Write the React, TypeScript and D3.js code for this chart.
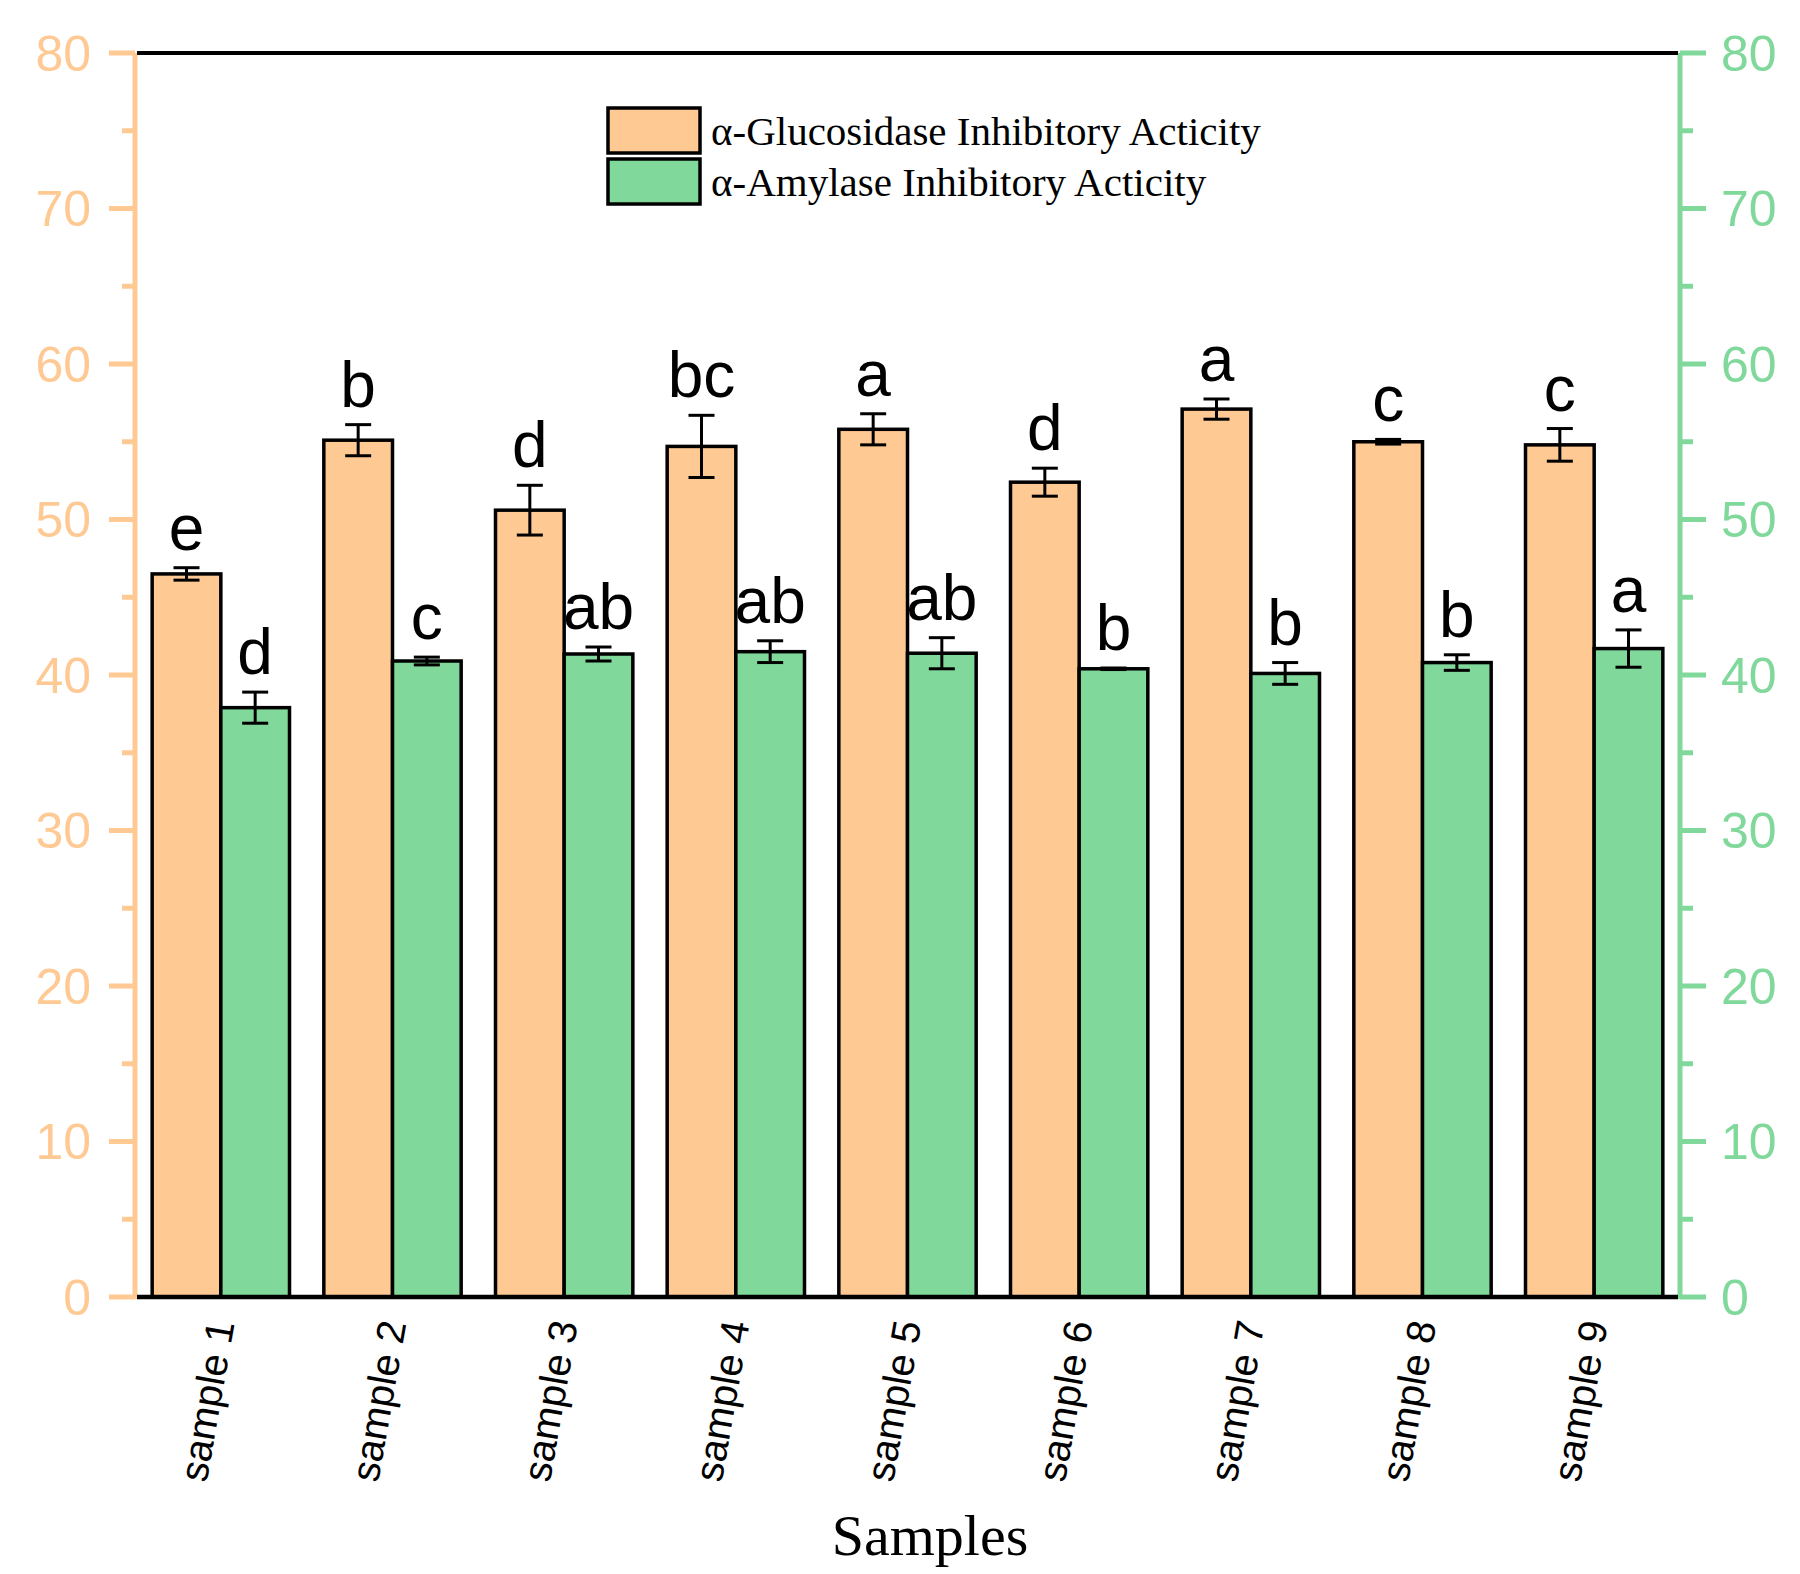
import * as d3 from "d3"

const samples = ["sample 1", "sample 2", "sample 3", "sample 4", "sample 5", "sample 6", "sample 7", "sample 8", "sample 9"]
const seriesNames = ["α-Glucosidase Inhibitory Acticity", "α-Amylase Inhibitory Acticity"]

const glucosidase = [46.5, 55.1, 50.6, 54.7, 55.8, 52.4, 57.1, 55.0, 54.8]
const glucosidaseErr = [0.4, 1.0, 1.6, 2.0, 1.0, 0.9, 0.65, 0.15, 1.05]
const glucosidaseLetters = ["e", "b", "d", "bc", "a", "d", "a", "c", "c"]

const amylase = [37.9, 40.9, 41.35, 41.5, 41.4, 40.4, 40.1, 40.8, 41.7]
const amylaseErr = [1.0, 0.25, 0.45, 0.7, 1.0, 0.05, 0.7, 0.5, 1.2]
const amylaseLetters = ["d", "c", "ab", "ab", "ab", "b", "b", "b", "a"]

const yTicks = [0, 10, 20, 30, 40, 50, 60, 70, 80]
const yMinorTicks = [5, 15, 25, 35, 45, 55, 65, 75]

const COLORS = {
  peach: "#FFC994",
  green: "#80D89B",
}

const W = 1800
const H = 1574
const margin = { left: 135, right: 120, top: 53, bottom: 277 }

export default function App() {
  const x0 = margin.left
  const x1 = W - margin.right
  const yTop = margin.top
  const yBot = H - margin.bottom

  const x = d3.scaleBand().domain(samples).range([x0, x1]).paddingInner(0.2).paddingOuter(0.1)
  const xSub = d3.scaleBand().domain(["g", "a"]).range([0, x.bandwidth()])
  const y = d3.scaleLinear().domain([0, 80]).range([yBot, yTop])

  const series = [
    { key: "g", values: glucosidase, err: glucosidaseErr, letters: glucosidaseLetters, color: COLORS.peach },
    { key: "a", values: amylase, err: amylaseErr, letters: amylaseLetters, color: COLORS.green },
  ]

  const capHalf = 13
  const sans = "Arial, 'Liberation Sans', sans-serif"
  const serif = "'Times New Roman', 'Liberation Serif', serif"

  return (
    <svg width={W} height={H} style={{ position: "absolute", left: 0, top: 0, background: "#fff" }}>
      {/* bars */}
      {series.map((s) =>
        samples.map((name, i) => {
          const bx = (x(name) ?? 0) + (xSub(s.key) ?? 0)
          const bw = xSub.bandwidth()
          return (
            <rect
              key={s.key + name}
              x={bx}
              y={y(s.values[i])}
              width={bw}
              height={yBot - y(s.values[i])}
              fill={s.color}
              stroke="#000"
              strokeWidth={3.5}
            />
          )
        })
      )}

      {/* error bars and letters */}
      {series.map((s) =>
        samples.map((name, i) => {
          const cx = (x(name) ?? 0) + (xSub(s.key) ?? 0) + xSub.bandwidth() / 2
          const hi = y(s.values[i] + s.err[i])
          const lo = y(s.values[i] - s.err[i])
          return (
            <g key={"e" + s.key + name} stroke="#000" strokeWidth={3}>
              <line x1={cx} x2={cx} y1={hi} y2={lo} />
              <line x1={cx - capHalf} x2={cx + capHalf} y1={hi} y2={hi} />
              <line x1={cx - capHalf} x2={cx + capHalf} y1={lo} y2={lo} />
              <text
                x={cx}
                y={hi - 18}
                stroke="none"
                fill="#000"
                fontFamily={sans}
                fontSize={64}
                textAnchor="middle"
              >
                {s.letters[i]}
              </text>
            </g>
          )
        })
      )}

      {/* left axis */}
      <line x1={x0} x2={x0} y1={yTop} y2={yBot + 2} stroke={COLORS.peach} strokeWidth={5} />
      {yTicks.map((t) => (
        <g key={"l" + t}>
          <line x1={x0 - 26} x2={x0} y1={y(t)} y2={y(t)} stroke={COLORS.peach} strokeWidth={5} />
          <text
            x={x0 - 44}
            y={y(t)}
            dy="0.35em"
            textAnchor="end"
            fill={COLORS.peach}
            fontFamily={sans}
            fontSize={50}
          >
            {t}
          </text>
        </g>
      ))}
      {yMinorTicks.map((t) => (
        <line key={"lm" + t} x1={x0 - 13} x2={x0} y1={y(t)} y2={y(t)} stroke={COLORS.peach} strokeWidth={5} />
      ))}

      {/* right axis */}
      <line x1={x1} x2={x1} y1={yTop} y2={yBot + 2} stroke={COLORS.green} strokeWidth={5} />
      {yTicks.map((t) => (
        <g key={"r" + t}>
          <line x1={x1} x2={x1 + 26} y1={y(t)} y2={y(t)} stroke={COLORS.green} strokeWidth={5} />
          <text
            x={x1 + 41}
            y={y(t)}
            dy="0.35em"
            textAnchor="start"
            fill={COLORS.green}
            fontFamily={sans}
            fontSize={50}
          >
            {t}
          </text>
        </g>
      ))}
      {yMinorTicks.map((t) => (
        <line key={"rm" + t} x1={x1} x2={x1 + 13} y1={y(t)} y2={y(t)} stroke={COLORS.green} strokeWidth={5} />
      ))}

      {/* top and bottom frame lines */}
      <line x1={x0 + 2} x2={x1 - 2} y1={yTop} y2={yTop} stroke="#000" strokeWidth={4} />
      <line x1={x0 + 2} x2={x1 - 2} y1={yBot} y2={yBot} stroke="#000" strokeWidth={4.5} />

      {/* x tick labels */}
      {samples.map((name) => {
        const cx = (x(name) ?? 0) + x.bandwidth() / 2
        return (
          <text
            key={"xl" + name}
            transform={`translate(${cx},${yBot + 24}) rotate(-80)`}
            dy="0.35em"
            textAnchor="end"
            fontFamily={sans}
            fontSize={40}
            fill="#000"
          >
            {name}
          </text>
        )
      })}

      {/* x axis title */}
      <text x={930} y={1555} textAnchor="middle" fontFamily={serif} fontSize={58} fill="#000">
        Samples
      </text>

      {/* legend */}
      {seriesNames.map((label, i) => (
        <g key={label} transform={`translate(608,${108 + i * 51})`}>
          <rect x={0} y={0} width={92} height={45} fill={series[i].color} stroke="#000" strokeWidth={3.5} />
          <text x={103} y={37} fontFamily={serif} fontSize={41} fill="#000">
            {label}
          </text>
        </g>
      ))}
    </svg>
  )
}
